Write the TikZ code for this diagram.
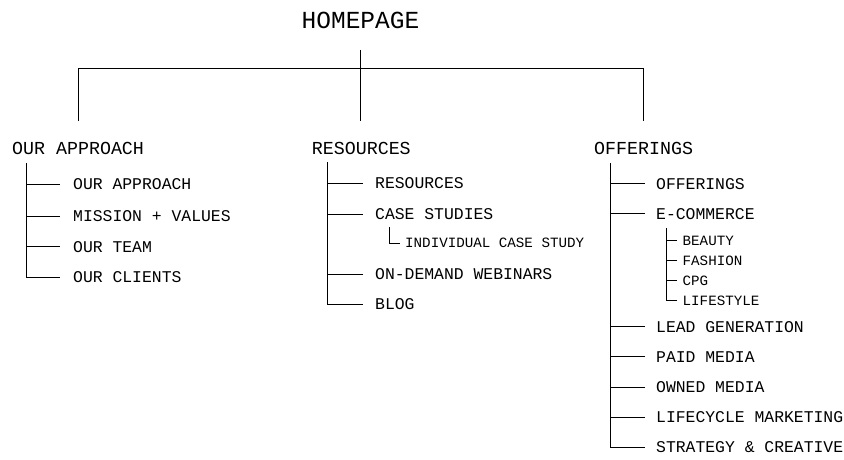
\documentclass[tikz,border=0pt]{standalone}
\usepackage{fontspec}
\newfontfamily\monofam{Liberation Mono}
\begin{document}
\begin{tikzpicture}[x=1pt,y=-1pt,
  every node/.style={inner sep=0pt, text depth=0pt, anchor=west},
  homelbl/.style={anchor=center, font=\monofam\fontsize{24.5}{26}\selectfont, text height=16pt},
  toplbl/.style={font=\monofam\fontsize{18.3}{20}\selectfont, text height=12.4pt},
  sublbl/.style={font=\monofam\fontsize{16.4}{18}\selectfont, text height=11pt},
  subsublbl/.style={font=\monofam\fontsize{14.2}{16}\selectfont, text height=9.5pt},
  conn/.style={line width=0.9pt, draw=black}
]
\useasboundingbox (0,0) rectangle (844,460);

% root
\node[homelbl] (home) at (360.5,20.5) {HOMEPAGE};
\coordinate (stem) at (360.5,50);
\coordinate (barL) at (78,68);
\coordinate (barR) at (643,68);
\coordinate (endY) at (0,121);
\draw[conn] (stem) -- (stem |- endY);
\draw[conn] (barL |- endY) -- (barL) -- (barR) -- (barR |- endY);

% top level
\node[toplbl] (oa) at (12,148) {OUR APPROACH};
\node[toplbl] (res) at (311.7,148) {RESOURCES};
\node[toplbl] (off) at (594,148) {OFFERINGS};

% left tree
\coordinate (vA) at (26,163);
\node[sublbl] (a1) at (73,184) {OUR APPROACH};
\node[sublbl] (a2) at (73,216) {MISSION + VALUES};
\node[sublbl] (a3) at (73,246.5) {OUR TEAM};
\node[sublbl] (a4) at (73,277) {OUR CLIENTS};
\draw[conn] (vA) -- (vA |- a4.west) -- ++(34,0);
\foreach \n in {a1,a2,a3}{\draw[conn] (vA |- \n.west) -- ++(34,0);}

% middle tree
\coordinate (vB) at (327,162);
\node[sublbl] (b1) at (375,183) {RESOURCES};
\node[sublbl] (b2) at (375,214) {CASE STUDIES};
\node[subsublbl] (b21) at (405,243) {INDIVIDUAL CASE STUDY};
\node[sublbl] (b3) at (375,274) {ON-DEMAND WEBINARS};
\node[sublbl] (b4) at (375,304) {BLOG};
\draw[conn] (vB) -- (vB |- b4.west) -- ++(36,0);
\foreach \n in {b1,b2,b3}{\draw[conn] (vB |- \n.west) -- ++(36,0);}
\coordinate (vB2) at (389,227);
\draw[conn] (vB2) -- (vB2 |- b21.west) -- ++(11,0);

% right tree
\coordinate (vC) at (610,163);
\node[sublbl] (c1) at (656,183.5) {OFFERINGS};
\node[sublbl] (c2) at (656,213.5) {E-COMMERCE};
\node[subsublbl] (c21) at (682.5,240.5) {BEAUTY};
\node[subsublbl] (c22) at (682.5,260.5) {FASHION};
\node[subsublbl] (c23) at (682.5,280.5) {CPG};
\node[subsublbl] (c24) at (682.5,300.5) {LIFESTYLE};
\node[sublbl] (c3) at (656,326.5) {LEAD GENERATION};
\node[sublbl] (c4) at (656,356.5) {PAID MEDIA};
\node[sublbl] (c5) at (656,387) {OWNED MEDIA};
\node[sublbl] (c6) at (656,417) {LIFECYCLE MARKETING};
\node[sublbl] (c7) at (656,447) {STRATEGY \& CREATIVE};
\draw[conn] (vC) -- (vC |- c7.west) -- ++(35,0);
\foreach \n in {c1,c2,c3,c4,c5,c6}{\draw[conn] (vC |- \n.west) -- ++(35,0);}
\coordinate (vC2) at (666.5,228);
\draw[conn] (vC2) -- (vC2 |- c24.west) -- ++(10.5,0);
\foreach \n in {c21,c22,c23}{\draw[conn] (vC2 |- \n.west) -- ++(10.5,0);}
\end{tikzpicture}
\end{document}
